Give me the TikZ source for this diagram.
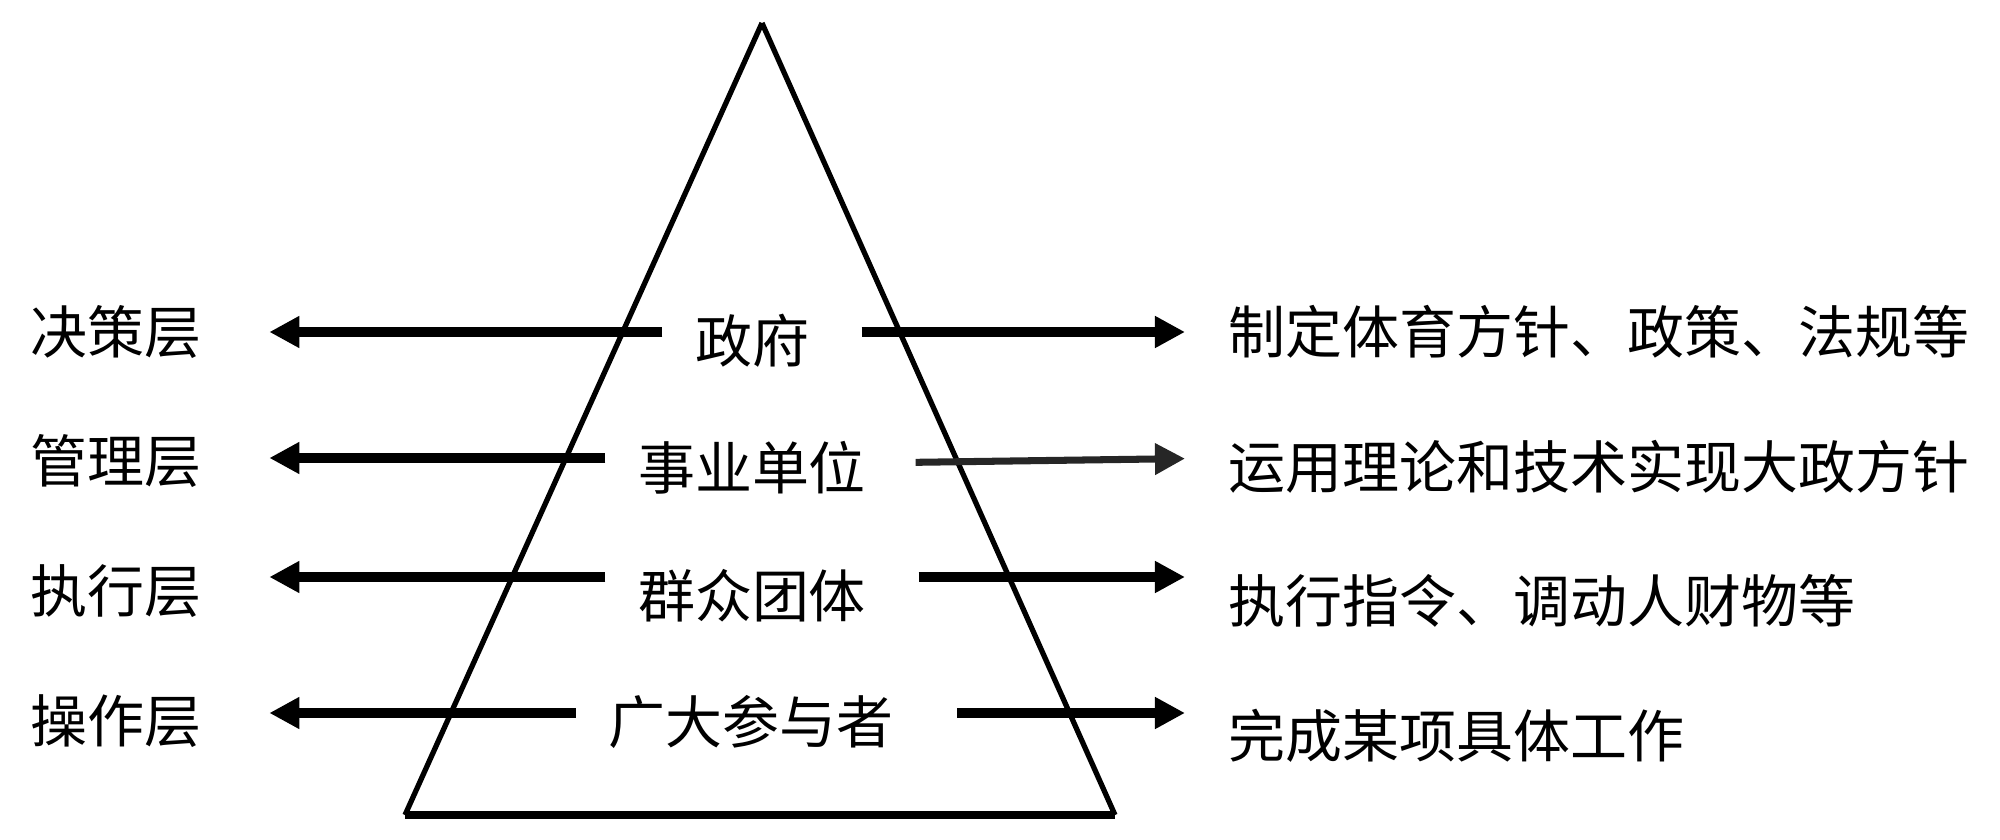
\documentclass[tikz,border=0pt]{standalone}
\usepackage{fontspec}
\newfontfamily\cjk{Noto Sans CJK SC}
\usepackage{tikz}
\usetikzlibrary{arrows.meta}

\begin{document}
\begin{tikzpicture}[x=0.01cm,y=-0.01cm,>={Triangle[length=0.3cm,width=0.3cm]},
  lbl/.style={inner sep=0pt,font=\cjk\fontsize{16.2pt}{19pt}\selectfont},
  layerarrow/.style={->,line width=2.8pt},
  slimarrow/.style={->,line width=2pt,black!85}]
\useasboundingbox (0,0) rectangle (2000,840);
%%%PYRAMID
\draw[line width=1.5pt,line join=round] (762,23) -- (1115,815);
\draw[line width=1.5pt,line join=round] (762,23) -- (405,815);
\draw[line width=2pt] (405,815) -- (1115,815);
%%%LAYERS
\node[lbl,anchor=west] (jc) at (30,332) {决策层};
\node[lbl,anchor=west] (gl) at (30,461) {管理层};
\node[lbl,anchor=west] (zx) at (30,591) {执行层};
\node[lbl,anchor=west] (cz) at (30,721) {操作层};
%%%BODIES
\node[lbl] (zf) at (752,341) {政府};
\node[lbl] (sy) at (752,468) {事业单位};
\node[lbl] (qz) at (752,596) {群众团体};
\node[lbl] (cy) at (751,722) {广大参与者};
%%%TASKS
\node[lbl,anchor=west] (t1) at (1228,332) {制定体育方针、政策、法规等};
\node[lbl,anchor=west] (t2) at (1228,467) {运用理论和技术实现大政方针};
\node[lbl,anchor=west] (t3) at (1228,601) {执行指令、调动人财物等};
\node[lbl,anchor=west] (t4) at (1228,736) {完成某项具体工作};
%%%ARROWS
\coordinate (r1) at (0,332);
\coordinate (r2) at (0,458);
\coordinate (r3) at (0,577);
\coordinate (r4) at (0,713);
\draw[layerarrow,shorten <=0.32cm,shorten >=0.67cm] (zf.west |- r1) -- (jc.east |- r1);
\draw[layerarrow,shorten <=0.32cm,shorten >=0.67cm] (sy.west |- r2) -- (gl.east |- r2);
\draw[layerarrow,shorten <=0.32cm,shorten >=0.67cm] (qz.west |- r3) -- (zx.east |- r3);
\draw[layerarrow,shorten <=0.32cm,shorten >=0.67cm] (cy.west |- r4) -- (cz.east |- r4);
\draw[layerarrow,shorten <=0.52cm,shorten >=0.43cm] (zf.east |- r1) -- (t1.west |- r1);
\draw[slimarrow,shorten <=0.49cm,shorten >=0.43cm] ([yshift=-0.05cm]sy.east |- r2) -- (t2.west |- r2);
\draw[layerarrow,shorten <=0.52cm,shorten >=0.43cm] (qz.east |- r3) -- (t3.west |- r3);
\draw[layerarrow,shorten <=0.63cm,shorten >=0.43cm] (cy.east |- r4) -- (t4.west |- r4);
\end{tikzpicture}
\end{document}
